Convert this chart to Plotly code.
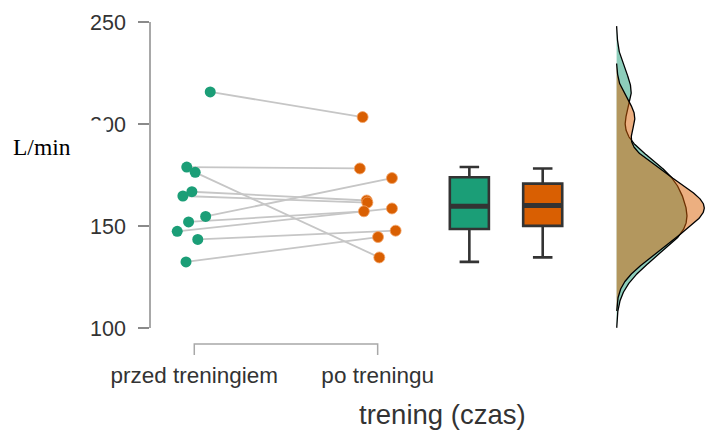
import numpy as np
import plotly.graph_objects as go

# --- data -------------------------------------------------------------------
groups = ["przed treningiem", "po treningu"]

# paired measurements (L/min), index i is the same subject before / after
przed = [215.7, 178.9, 176.3, 166.8, 164.7, 154.7, 152.0, 147.4, 143.4, 132.4]
po = [203.4, 178.2, 134.6, 162.5, 161.5, 173.5, 157.2, 158.6, 147.7, 144.6]

# horizontal jitter of the individual points (category units)
jitter_przed = [0.087, -0.041, 0.005, -0.013, -0.062, 0.062, -0.031, -0.093, 0.019, -0.045]
jitter_po = [-0.082, -0.097, 0.009, -0.060, -0.056, 0.078, -0.075, 0.078, 0.098, 0.002]

y_ticks = [100, 150, 200, 250]

# --- styling ----------------------------------------------------------------
GREEN = "#1b9e77"
ORANGE = "#d95f02"
GREEN_FILL = "rgba(27,158,119,0.5)"
ORANGE_FILL = "rgba(217,95,2,0.5)"
EDGE = "#333333"
AXIS_GREY = "#a8a8a8"
TEXT = "#333333"

W, H = 705, 431
ML, MR, MT, MB = 151, 0, 22, 103
X_RANGE = [-0.236, 2.785]
Y_RANGE = [100, 250]
BOX_POS = [1.5, 1.9]
BOX_W = 0.213
KDE_BASE = 2.303
KDE_MAXW = 0.478


def box_stats(vals):
    v = np.sort(np.asarray(vals, dtype=float))
    q1, med, q3 = np.percentile(v, [25, 50, 75])
    iqr = q3 - q1
    lo = v[v >= q1 - 1.5 * iqr].min()
    hi = v[v <= q3 + 1.5 * iqr].max()
    return q1, med, q3, lo, hi


def kde(vals, n=512, cut=3):
    v = np.asarray(vals, dtype=float)
    q1, q3 = np.percentile(v, [25, 75])
    bw = 0.9 * min(v.std(ddof=1), (q3 - q1) / 1.34) * len(v) ** (-0.2)
    grid = np.linspace(v.min() - cut * bw, v.max() + cut * bw, n)
    dens = np.exp(-0.5 * ((grid[:, None] - v[None, :]) / bw) ** 2).sum(axis=1)
    dens /= len(v) * bw * np.sqrt(2 * np.pi)
    return grid, dens


def paper_x(v):
    return (v - X_RANGE[0]) / (X_RANGE[1] - X_RANGE[0])


def px_to_paper_x(p):
    return (p - ML) / (W - ML - MR)


def px_to_paper_y(p):
    return (H - MB - p) / (H - MB - MT)


fig = go.Figure()

# paired connecting lines
for a, b, ja, jb in zip(przed, po, jitter_przed, jitter_po):
    fig.add_trace(go.Scatter(
        x=[0 + ja, 1 + jb], y=[a, b], mode="lines",
        line=dict(color="#c6c6c6", width=1.8), hoverinfo="skip",
    ))

# individual points
fig.add_trace(go.Scatter(
    x=[0 + j for j in jitter_przed], y=przed, mode="markers",
    marker=dict(color=GREEN, size=11, line=dict(width=0)), name=groups[0],
))
fig.add_trace(go.Scatter(
    x=[1 + j for j in jitter_po], y=po, mode="markers",
    marker=dict(color=ORANGE, size=11, line=dict(width=0.8, color="#f2a56a")), name=groups[1],
))

# box plots
for pos, vals, col, name in zip(BOX_POS, [przed, po], [GREEN, ORANGE], groups):
    q1, med, q3, lo, hi = box_stats(vals)
    fig.add_trace(go.Box(
        x=[pos], q1=[q1], median=[med], q3=[q3], lowerfence=[lo], upperfence=[hi],
        width=BOX_W, whiskerwidth=0.5, fillcolor=col,
        line=dict(color=EDGE, width=2.6), boxpoints=False, name=name,
    ))
    fig.add_trace(go.Scatter(
        x=[pos - BOX_W / 2, pos + BOX_W / 2], y=[med, med], mode="lines",
        line=dict(color=EDGE, width=5), hoverinfo="skip",
    ))

# half-violin densities
kdes = [kde(przed), kde(po)]
scale = KDE_MAXW / max(d.max() for _, d in kdes)
for (grid, dens), fill in zip(kdes, [GREEN_FILL, ORANGE_FILL]):
    xs = np.concatenate([[KDE_BASE], KDE_BASE + dens * scale, [KDE_BASE]])
    ys = np.concatenate([[grid[0]], grid, [grid[-1]]])
    fig.add_trace(go.Scatter(
        x=xs, y=ys, mode="lines", fill="toself", fillcolor=fill,
        line=dict(color="black", width=1.3), hoverinfo="skip",
    ))

# category bracket under the paired points
by0, by1 = px_to_paper_y(344), px_to_paper_y(355)
bx0, bx1 = paper_x(0), paper_x(1)
fig.add_shape(type="path", xref="paper", yref="paper",
              path=f"M {bx0} {by1} L {bx0} {by0} L {bx1} {by0} L {bx1} {by1}",
              line=dict(color=AXIS_GREY, width=1.5))

fig.update_layout(
    width=W, height=H,
    margin=dict(l=ML, r=MR, t=MT, b=MB),
    plot_bgcolor="white", paper_bgcolor="white",
    showlegend=False,
    font=dict(family="Liberation Sans, Arial, sans-serif", color=TEXT),
    xaxis=dict(
        range=X_RANGE, tickvals=[0, 1], ticktext=groups,
        showline=False, showgrid=False, zeroline=False, ticks="",
        tickfont=dict(size=22.5, color=TEXT), ticklabelstandoff=31,
    ),
    yaxis=dict(
        range=Y_RANGE, tickvals=y_ticks,
        showline=True, linecolor=AXIS_GREY, linewidth=1.5,
        ticks="outside", ticklen=11, tickwidth=1.5, tickcolor="#8a8a8a",
        showgrid=False, zeroline=False,
        tickfont=dict(size=21.5, color=TEXT), ticklabelstandoff=8,
    ),
    annotations=[
        dict(text="L/min", xref="paper", yref="paper",
             x=px_to_paper_x(12), y=px_to_paper_y(147),
             xanchor="left", yanchor="middle", showarrow=False,
             width=93, height=52, align="left", valign="middle",
             bgcolor="white", borderpad=0,
             font=dict(family="Liberation Serif, Times New Roman, serif", size=23.5, color="black")),
        dict(text="trening (czas)", xref="paper", yref="paper",
             x=px_to_paper_x(442.5), y=px_to_paper_y(415),
             xanchor="center", yanchor="middle", showarrow=False,
             font=dict(size=27.5, color=TEXT)),
    ],
)

fig.write_html("out.html")
